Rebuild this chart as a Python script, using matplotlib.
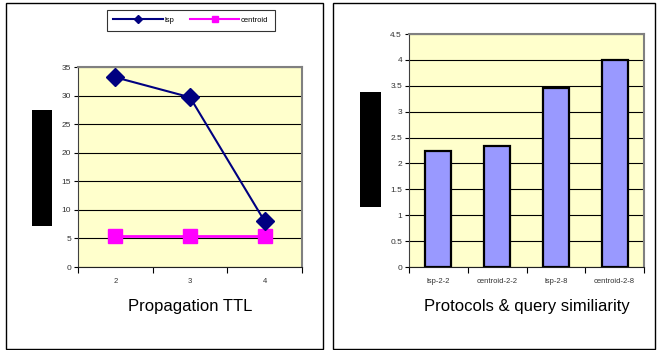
import matplotlib
matplotlib.use("Agg")
import matplotlib.pyplot as plt
from matplotlib.patches import Rectangle
from matplotlib.lines import Line2D

plt.rcParams['font.family'] = ['Liberation Sans', 'DejaVu Sans']

ttl = ["2", "3", "4"]
lsp = [33.2, 29.7, 8.0]
centroid = [5.5, 5.5, 5.5]

bar_labels = ["lsp-2-2", "centroid-2-2", "lsp-2-8", "centroid-2-8"]
bar_values = [2.25, 2.33, 3.45, 4.0]

W, H = 658, 350
fig = plt.figure(figsize=(W / 100, H / 100), dpi=100)

def fx(px): return px / W
def fy(py): return 1 - py / H

# panel borders
fig.patches.append(Rectangle((fx(6), fy(349)), fx(317), 346 / H, transform=fig.transFigure,
                             fill=False, edgecolor='black', linewidth=1.0))
fig.patches.append(Rectangle((fx(333), fy(349)), fx(322), 346 / H, transform=fig.transFigure,
                             fill=False, edgecolor='black', linewidth=1.0))

# black boxes (obscured y labels)
fig.patches.append(Rectangle((fx(32), fy(226)), fx(20), 116 / H, transform=fig.transFigure,
                             facecolor='black', edgecolor='none'))
fig.patches.append(Rectangle((fx(360), fy(207)), fx(21), 115 / H, transform=fig.transFigure,
                             facecolor='black', edgecolor='none'))

bg = '#FFFFCC'

def style_axes(ax):
    ax.set_facecolor(bg)
    ax.spines['top'].set_color('#808080')
    ax.spines['right'].set_color('#808080')
    ax.spines['top'].set_linewidth(1.5)
    ax.spines['right'].set_linewidth(1.5)
    ax.spines['left'].set_color('#404040')
    ax.spines['bottom'].set_color('#202020')
    ax.yaxis.grid(True, color='black', linewidth=0.8)
    ax.set_axisbelow(True)
    ax.tick_params(axis='y', labelsize=6, length=3, width=0.8, pad=2, labelcolor='#333333')
    ax.tick_params(axis='x', which='major', labelsize=5.5, length=0, pad=8, labelcolor='#333333')
    ax.tick_params(axis='x', which='minor', length=4, width=0.8, direction='out')

# Left chart
ax1 = fig.add_axes([fx(78), fy(267), fx(224), 200 / H])
style_axes(ax1)
x1 = list(range(len(ttl)))
ax1.plot(x1, centroid, color='#FF00FF', linewidth=2.0, marker='s', markersize=10,
         markerfacecolor='#FF00FF', markeredgecolor='#FF00FF', label='centroid', zorder=3)
ax1.plot(x1, lsp, color='#000080', linewidth=1.5, marker='D', markersize=9,
         markerfacecolor='#000080', markeredgecolor='#000080', label='lsp', zorder=4)
ax1.set_xlim(-0.5, len(ttl) - 0.5)
ax1.set_ylim(0, 35)
ax1.set_yticks([0, 5, 10, 15, 20, 25, 30, 35])
ax1.set_xticks(x1)
ax1.set_xticklabels(ttl)
ax1.set_xticks([i + 0.5 for i in range(-1, len(ttl))], minor=True)
ax1.set_xlabel("Propagation TTL", fontsize=12, labelpad=10)

# legend box
handles = [Line2D([], [], color='#000080', marker='D', markersize=4, linewidth=1.5),
           Line2D([], [], color='#FF00FF', marker='s', markersize=5, linewidth=1.5)]
leg = fig.legend(handles, ['lsp', 'centroid'], loc='center',
                 bbox_to_anchor=(fx(191), fy(20.5)), ncol=2, fontsize=5.5,
                 frameon=True, fancybox=False, edgecolor='black', handlelength=6.5,
                 handletextpad=0.2, columnspacing=2.0, borderpad=0.9)
leg.get_frame().set_linewidth(0.8)

# Right chart
ax2 = fig.add_axes([fx(409), fy(267), fx(235), 233 / H])
style_axes(ax2)
x2 = list(range(len(bar_labels)))
ax2.bar(x2, bar_values, width=0.44, color='#9999FF', edgecolor='black', linewidth=1.6, zorder=3)
ax2.set_xlim(-0.5, len(bar_labels) - 0.5)
ax2.set_ylim(0, 4.5)
ax2.set_yticks([0, 0.5, 1, 1.5, 2, 2.5, 3, 3.5, 4, 4.5])
ax2.set_yticklabels(["0", "0.5", "1", "1.5", "2", "2.5", "3", "3.5", "4", "4.5"])
ax2.set_xticks(x2)
ax2.set_xticklabels(bar_labels)
ax2.set_xticks([i + 0.5 for i in range(-1, len(bar_labels))], minor=True)
ax2.set_xlabel("Protocols & query similiarity", fontsize=12, labelpad=10)

fig.savefig("out.png", dpi=100)
